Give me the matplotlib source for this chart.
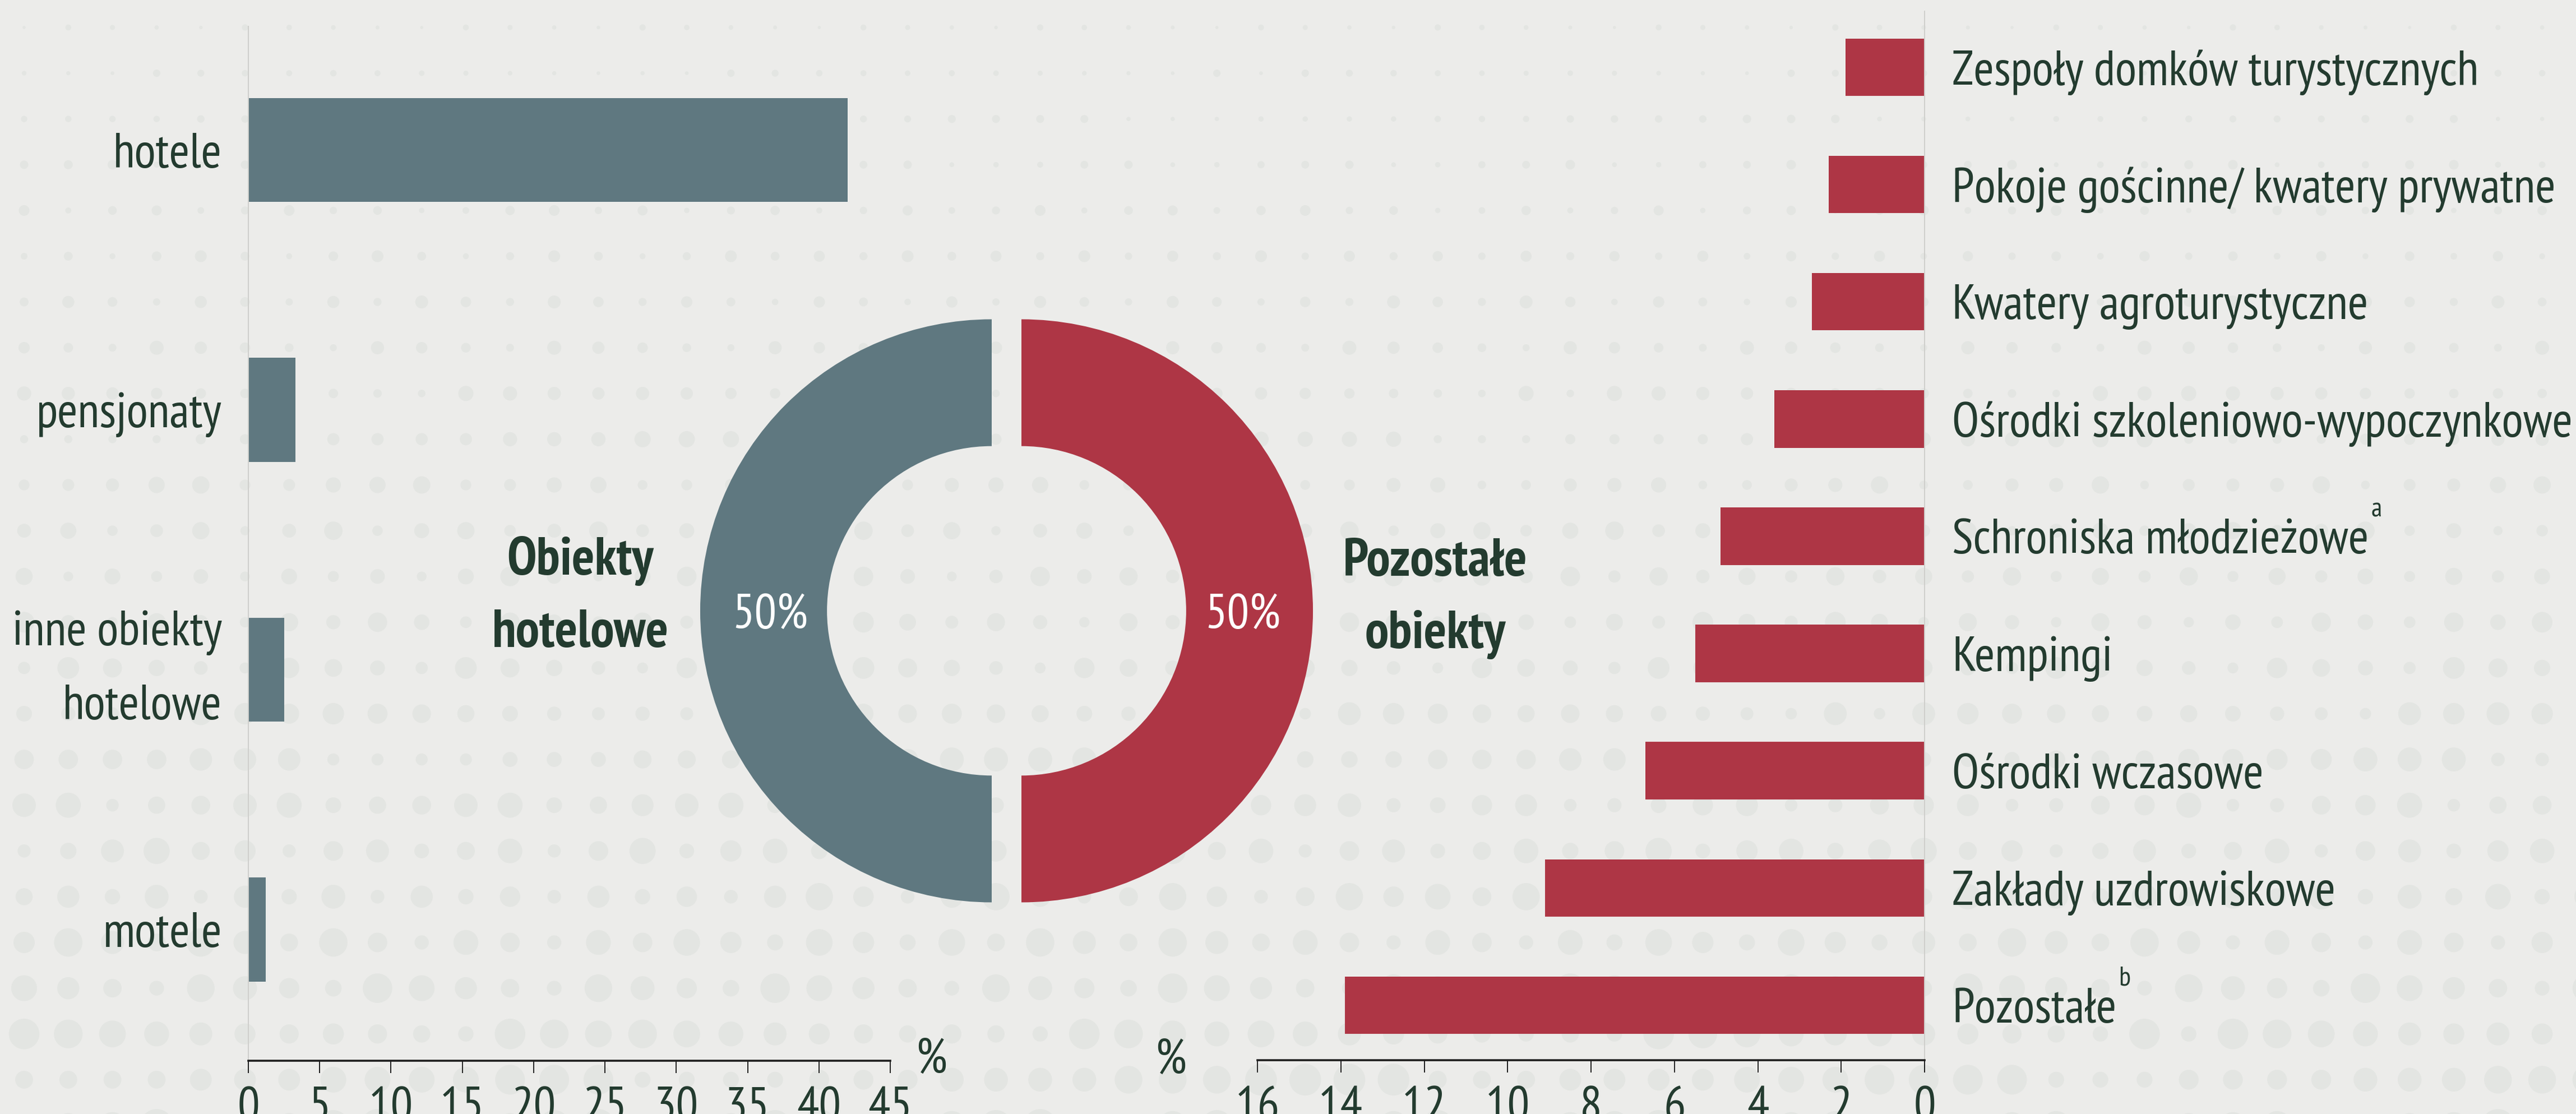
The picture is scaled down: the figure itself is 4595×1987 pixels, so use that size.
import matplotlib
matplotlib.use("Agg")
import matplotlib.pyplot as plt
from matplotlib import font_manager as fm
from matplotlib.font_manager import FontProperties
from matplotlib.textpath import TextPath
import numpy as np

# ---------------- data ----------------
hotel_cats = ["hotele", "pensjonaty", "inne obiekty\nhotelowe", "motele"]
hotel_vals = [42.0, 3.3, 2.5, 1.2]

other_cats = ["Zespoły domków turystycznych", "Pokoje gościnne/ kwatery prywatne",
              "Kwatery agroturystyczne", "Ośrodki szkoleniowo-wypoczynkowe",
              "Schroniska młodzieżowe", "Kempingi", "Ośrodki wczasowe",
              "Zakłady uzdrowiskowe", "Pozostałe"]
other_vals = [1.9, 2.3, 2.7, 3.6, 4.9, 5.5, 6.7, 9.1, 13.9]
other_notes = ["", "", "", "", "a", "", "", "", "b"]

share_labels = ["Obiekty\nhotelowe", "Pozostałe\nobiekty"]
share_vals = [50, 50]

left_ticks = [0, 5, 10, 15, 20, 25, 30, 35, 40, 45]
right_ticks = [0, 2, 4, 6, 8, 10, 12, 14, 16]
unit_label = "%"

# ---------------- style ----------------
BG = "#ECECEA"
DOT = "#E3E5E2"
GRAY = "#5F7880"
RED = "#AE3645"
TXT = "#233B2F"
W, H, DPI = 4595, 1987, 100

# pick a condensed humanist font that fits the reference proportions
available = {f.name for f in fm.fontManager.ttflist}
bold_ok = {f.name for f in fm.fontManager.ttflist if f.weight in (600, 700, 800, "bold")}
cands = ["PT Sans Narrow", "Fira Sans Condensed", "Fira Sans Extra Condensed",
         "Open Sans Condensed", "Roboto Condensed", "Encode Sans Condensed",
         "Asap Condensed", "Liberation Sans Narrow"]
best = None
for name in cands:
    if name not in available or name not in bold_ok:
        continue
    fp = FontProperties(family=name)
    w = TextPath((0, 0), "Ośrodki szkoleniowo-wypoczynkowe", size=100, prop=fp).get_extents().width
    c = TextPath((0, 0), "H", size=100, prop=fp).get_extents().height
    s_w = 1100 / (w / 100 * DPI / 72)
    s_h = 66 / (c / 100 * DPI / 72)
    score = abs(np.log(s_w / s_h))
    if best is None or score < best[0]:
        best = (score, name, s_w, s_h)
if best is None:
    FONT, FS = "DejaVu Sans", 40
else:
    FONT, FS = best[1], min(best[2], best[3] * 1.04)

plt.rcParams["font.family"] = [FONT, "DejaVu Sans"]

fig = plt.figure(figsize=(W / DPI, H / DPI), dpi=DPI, facecolor=BG)


def fx(px):
    return px / W


def fy(py):
    return 1 - py / H


# ---------------- decorative halftone background ----------------
bg = fig.add_axes([0, 0, 1, 1], zorder=-10)
bg.set_xlim(0, W)
bg.set_ylim(H, 0)
bg.axis("off")
xs = np.arange(43, W + 40, 78.8)
ys = np.arange(49, H + 40, 81.6)
X, Y = np.meshgrid(xs, ys)
I, J = np.meshgrid(np.arange(len(xs)), np.arange(len(ys)))
v = ((I * 7 + J * 11 + (I * J) % 7) % 9) / 8.0
d = (10 + 48 * (Y / H)) * (0.5 + 0.5 * v)
bg.scatter(X.ravel(), Y.ravel(), s=(0.72 * d.ravel()) ** 2, c=DOT, linewidths=0)

# ---------------- left bar chart ----------------
ax1 = fig.add_axes([fx(443), fy(1892), fx(1588) - fx(443), fy(47) - fy(1892)])
ax1.set_facecolor("none")
y1 = np.arange(len(hotel_cats))[::-1]
ax1.barh(y1, hotel_vals, height=0.40, color=GRAY, linewidth=0)
ax1.set_xlim(0, 45)
ax1.set_ylim(-0.505, 3.476)
ax1.set_xticks(left_ticks)
ax1.set_yticks([])
for s in ("top", "right"):
    ax1.spines[s].set_visible(False)
ax1.spines["left"].set_color("#CFCFCC")
ax1.spines["left"].set_linewidth(1.4)
ax1.spines["bottom"].set_color("#1E1E1E")
ax1.spines["bottom"].set_linewidth(2.6)
ax1.tick_params(axis="x", direction="out", length=16, width=1.4, color="#1E1E1E",
                pad=17, labelsize=FS, labelcolor=TXT)
for yy, lab in zip(y1, hotel_cats):
    multi = "\n" in lab
    ax1.annotate(lab, xy=(0, yy), xytext=(-47 * 0.72, 0), textcoords="offset points",
                 ha="right", va="center" if multi else "center_baseline",
                 multialignment="right", linespacing=1.85, fontsize=FS, color=TXT,
                 annotation_clip=False)
fig.text(fx(1661), fy(1883), unit_label, ha="center", va="center_baseline",
         fontsize=FS, color=TXT)

# ---------------- right bar chart ----------------
ax2 = fig.add_axes([fx(2243), fy(1891), fx(3433) - fx(2243), fy(20) - fy(1891)])
ax2.set_facecolor("none")
y2 = np.arange(len(other_cats))[::-1]
ax2.barh(y2, other_vals, height=0.49, color=RED, linewidth=0)
ax2.set_xlim(16, 0)
ax2.set_ylim(-0.469, 8.478)
ax2.set_xticks(right_ticks)
ax2.set_yticks([])
for s in ("top", "left"):
    ax2.spines[s].set_visible(False)
ax2.spines["right"].set_color("#CFCFCC")
ax2.spines["right"].set_linewidth(1.4)
ax2.spines["bottom"].set_color("#1E1E1E")
ax2.spines["bottom"].set_linewidth(2.6)
ax2.tick_params(axis="x", direction="out", length=16, width=1.4, color="#1E1E1E",
                pad=17, labelsize=FS, labelcolor=TXT)
for yy, lab, note in zip(y2, other_cats, other_notes):
    t = ax2.annotate(lab, xy=(0, yy), xytext=(49 * 0.72, 0), textcoords="offset points",
                     ha="left", va="center_baseline", fontsize=FS, color=TXT,
                     annotation_clip=False)
    if note:
        ax2.annotate(note, xy=(1, 1), xycoords=t, xytext=(3, 3),
                     textcoords="offset points", ha="left", va="baseline",
                     fontsize=FS * 0.55, color=TXT, annotation_clip=False)
fig.text(fx(2088), fy(1884), unit_label, ha="center", va="center_baseline",
         fontsize=FS, color=TXT)

# ---------------- donut ----------------
R = 520.0
cx, cy = 1795.5, 1089.5
half = 1.25 * R
ax3 = fig.add_axes([fx(cx - half), fy(cy + half), 2 * half / W, 2 * half / H])
ax3.set_facecolor("none")
wedges, _, autotexts = ax3.pie(
    share_vals, colors=[GRAY, RED], startangle=90, counterclock=True, radius=1,
    explode=[0.051, 0.051], wedgeprops=dict(width=0.435, linewidth=0),
    autopct="%d%%", pctdistance=0.76,
    textprops=dict(color="white", fontsize=FS))
for t in autotexts:
    t.set_va("center_baseline")
ax3.set_xlim(-1.25, 1.25)
ax3.set_ylim(-1.25, 1.25)
ax3.axis("off")

# bold side captions (va='baseline' anchors the last line's baseline)
fig.text(fx(1035), fy(1154), share_labels[0], ha="center", va="baseline",
         multialignment="center", linespacing=1.62, fontsize=FS * 1.08,
         fontweight="bold", color=TXT)
fig.text(fx(2560), fy(1156), share_labels[1], ha="center", va="baseline",
         multialignment="center", linespacing=1.62, fontsize=FS * 1.08,
         fontweight="bold", color=TXT)

fig.savefig("out.png", dpi=DPI, facecolor=BG)
